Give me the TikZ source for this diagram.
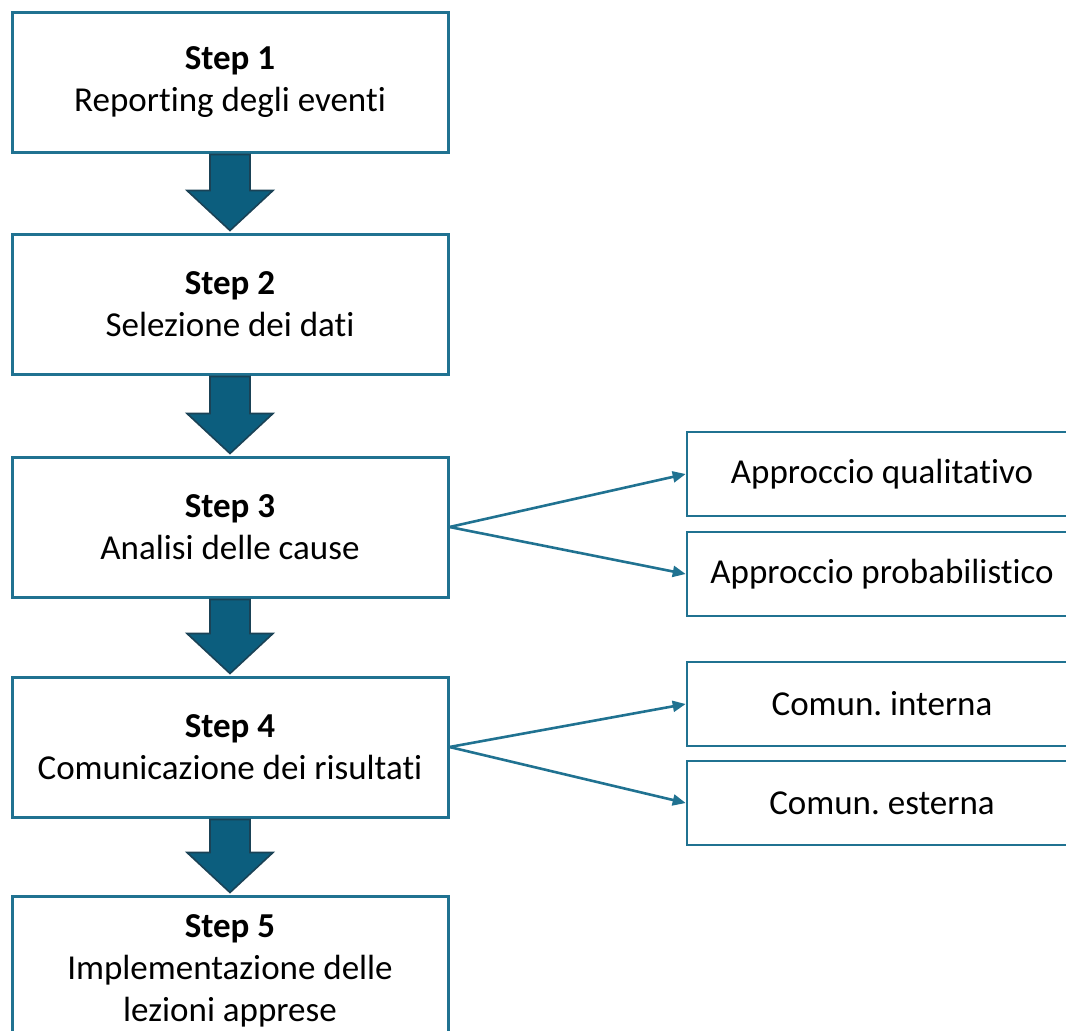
\documentclass[tikz,border=0pt]{standalone}
\usepackage{fontspec}
\setmainfont[Ligatures=NoCommon]{Carlito}
\usetikzlibrary{calc,arrows.meta}

\definecolor{boxline}{RGB}{32,114,145}
\definecolor{arrowfill}{RGB}{12,94,126}
\definecolor{arrowedge}{RGB}{26,66,86}

\tikzset{
  stepbox/.style={draw=boxline, line width=3pt, fill=white, align=center,
    minimum width=436pt, minimum height=140pt, inner sep=0pt,
    font=\fontsize{35}{42}\selectfont},
  sidebox/.style={draw=boxline, line width=2.6pt, fill=white, align=center,
    minimum width=390pt, minimum height=84pt, inner sep=0pt,
    font=\fontsize{35}{42}\selectfont},
  blockarrow/.style={fill=arrowfill, draw=arrowedge, line width=1.6pt, line join=miter},
  fanline/.style={draw=boxline, line width=2.6pt,
    -{Triangle[length=13pt,width=11pt]}},
}

% Thick down arrow between two stacked step boxes
\newcommand\stepdownarrow[2]{%
  \path[blockarrow]
    ($(#1.south)+(-20,1)$) -- ($(#1.south)+(20,1)$) --
    ($(#2.north)+(20,-42)$) -- ($(#2.north)+(43,-42)$) --
    ($(#2.north)+(0,-2)$) --
    ($(#2.north)+(-43,-42)$) -- ($(#2.north)+(-20,-42)$) -- cycle;}

\frenchspacing
\begin{document}
\begin{tikzpicture}[x=1pt,y=-1pt]
  \useasboundingbox (0,0) rectangle (1066,1031);
  \clip (0,0) rectangle (1066,1031);

  % main sequence of steps
  \node[stepbox] (s1) at (230,82)  {\textbf{Step 1}\\Reporting degli eventi};
  \node[stepbox] (s2) at (230,304) {\textbf{Step 2}\\Selezione dei dati};
  \node[stepbox] (s3) at (230,527) {\textbf{Step 3}\\Analisi delle cause};
  \node[stepbox] (s4) at (230,747) {\textbf{Step 4}\\Comunicazione dei risultati};
  \node[stepbox, minimum height=150pt] (s5) at (230,971)
    {\textbf{Step 5}\\Implementazione delle\\lezioni apprese};

  \stepdownarrow{s1}{s2}
  \stepdownarrow{s2}{s3}
  \stepdownarrow{s3}{s4}
  \stepdownarrow{s4}{s5}

  % branches of step 3 and step 4
  \node[sidebox] (q)  at (882,474) {Approccio qualitativo};
  \node[sidebox] (p)  at (882,574) {Approccio probabilistico};
  \node[sidebox] (ci) at (882,704) {Comun. interna};
  \node[sidebox] (ce) at (882,803) {Comun. esterna};

  \draw[fanline] (s3.east) -- (q.west);
  \draw[fanline] (s3.east) -- (p.west);
  \draw[fanline] (s4.east) -- (ci.west);
  \draw[fanline] (s4.east) -- (ce.west);
\end{tikzpicture}
\end{document}
